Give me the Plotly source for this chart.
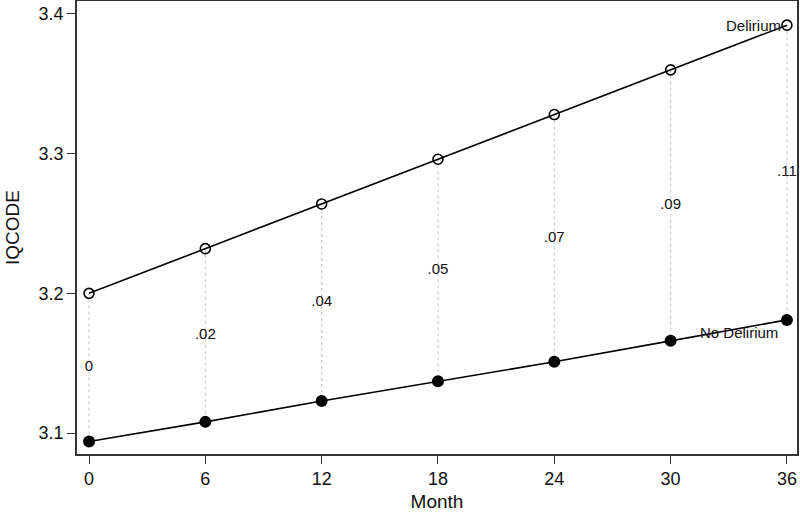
import plotly.graph_objects as go

month = [0, 6, 12, 18, 24, 30, 36]
delirium = [3.200, 3.232, 3.264, 3.296, 3.328, 3.360, 3.392]
no_delirium = [3.094, 3.108, 3.123, 3.137, 3.151, 3.166, 3.181]
diff_labels = ["0", ".02", ".04", ".05", ".07", ".09", ".11"]

font = "Liberation Sans, Arial, sans-serif"

fig = go.Figure()

# dotted connectors between the two groups
xs, ys = [], []
for m, a, b in zip(month, delirium, no_delirium):
    xs += [m, m, None]
    ys += [a, b, None]
fig.add_trace(go.Scatter(x=xs, y=ys, mode="lines",
                         line=dict(color="#cfcfcf", width=1.2, dash="dot"),
                         hoverinfo="skip", showlegend=False))

# difference labels at the midpoint
mids = [(a + b) / 2 for a, b in zip(delirium, no_delirium)]
fig.add_trace(go.Scatter(x=month, y=mids, mode="text", text=diff_labels,
                         textfont=dict(family=font, size=15, color="#111"),
                         cliponaxis=False, showlegend=False))

fig.add_trace(go.Scatter(x=month, y=delirium, mode="lines+markers", name="Delirium",
                         line=dict(color="black", width=1.6),
                         marker=dict(symbol="circle-open", size=10, color="black",
                                     line=dict(width=1.6)),
                         cliponaxis=False, showlegend=False))
fig.add_trace(go.Scatter(x=month, y=no_delirium, mode="lines+markers", name="No Delirium",
                         line=dict(color="black", width=1.6),
                         marker=dict(symbol="circle", size=12, color="black"),
                         cliponaxis=False, showlegend=False))

fig.add_annotation(x=month[-1], y=delirium[-1], text="Delirium", showarrow=False,
                   xanchor="right", xshift=-4, yshift=0,
                   font=dict(family=font, size=15, color="#111"))
fig.add_annotation(x=month[-1], y=no_delirium[-1], text="No Delirium", showarrow=False,
                   xanchor="right", xshift=-7, yshift=-13,
                   font=dict(family=font, size=15, color="#111"))

axis_common = dict(showgrid=False, zeroline=False, showline=True, linecolor="#333",
                   linewidth=1.5, mirror=True, ticks="outside", ticklen=8,
                   tickwidth=1.3, tickcolor="#333", automargin=False,
                   tickfont=dict(family=font, size=18, color="#111"))

fig.update_xaxes(range=[-0.62, 36.52], tickvals=month, title=dict(text="Month",
                 font=dict(family=font, size=19, color="#111"), standoff=8),
                 **axis_common)
fig.update_yaxes(range=[3.085, 3.4093], tickvals=[3.1, 3.2, 3.3, 3.4],
                 title=dict(text="IQCODE", font=dict(family=font, size=19, color="#111"),
                            standoff=14),
                 **axis_common)

fig.update_layout(width=800, height=512, plot_bgcolor="white", paper_bgcolor="white",
                  margin=dict(l=77, r=3, t=1, b=58))

fig.write_html("out.html", config={"displayModeBar": False},
               post_script="document.body.style.margin='0';")
